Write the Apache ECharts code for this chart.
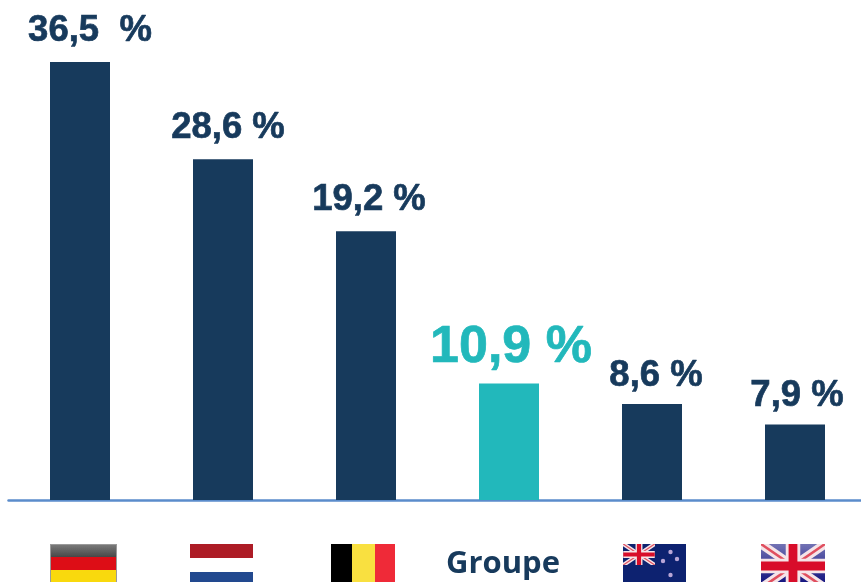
<!DOCTYPE html>
<html>
<head>
<meta charset="utf-8">
<style>
  html, body { margin: 0; padding: 0; background: #fff; }
  #chart { width: 861px; height: 582px; overflow: hidden; }
</style>
<script src="https://cdn.jsdelivr.net/npm/echarts@6/dist/echarts.min.js"></script>
</head>
<body>
<div id="chart"></div>
<script>
const categories = ['Allemagne', 'Pays-Bas', 'Belgique', 'Groupe', 'Nouvelle-Zélande', 'Royaume-Uni'];
// bar heights: in the reference they don't follow the printed labels exactly
const barValues = [36.5, 28.4, 22.4, 9.7, 8.0, 6.3];
const valueLabels = ['36,5  %', '28,6 %', '19,2 %', '10,9 %', '8,6 %', '7,9 %'];
const groupIndex = categories.indexOf('Groupe');

const NAVY = '#173a5c';
const TEAL = '#22b8bb';

const labelShiftX = [10, 5, 3, 2, 4, 2];
const labelGap = [12.5, 12.5, 12.5, 10, 10, 10];

// flags are slightly soft in the reference, so everything goes through a small blur
const svgUrl = (w, h, body) =>
  'data:image/svg+xml;charset=utf-8,' + encodeURIComponent(
    `<svg xmlns="http://www.w3.org/2000/svg" width="${w}" height="${h}" viewBox="0 0 ${w} ${h}">
      <defs>
        <filter id="soft" x="-5%" y="-5%" width="110%" height="110%"><feGaussianBlur stdDeviation="0.45"/></filter>
        <linearGradient id="grey" x1="0" y1="0" x2="0" y2="1"><stop offset="0" stop-color="#7d7d7d"/><stop offset="1" stop-color="#444444"/></linearGradient>
        <linearGradient id="ukBlue" x1="0" y1="0" x2="0" y2="1"><stop offset="0" stop-color="#7272b4"/><stop offset="0.5" stop-color="#3c3c96"/><stop offset="1" stop-color="#0a0a78"/></linearGradient>
      </defs>
      <g filter="url(#soft)">${body}</g></svg>`);

const unionJack = (w, h, blue) => `
  <rect width="${w}" height="${h}" fill="${blue}"/>
  <path d="M0 0L${w} ${h}M${w} 0L0 ${h}" stroke="#f5e4e8" stroke-width="${h * 0.2}"/>
  <path d="M0 0L${w} ${h}M${w} 0L0 ${h}" stroke="#e0505f" stroke-width="${h * 0.06}"/>
  <path d="M${w / 2} 0V${h}M0 ${h / 2}H${w}" stroke="#f5e4e8" stroke-width="${h * 0.33}"/>
  <path d="M${w / 2} 0V${h}M0 ${h / 2}H${w}" stroke="#d8102a" stroke-width="${h * 0.2}"/>`;

const star = (x, y) => `<circle cx="${x}" cy="${y}" r="2.2" fill="#b9a6d6"/>`;

const flags = [
  { x: 50, w: 67, h: 44, body: `
    <rect width="67" height="14" fill="url(#grey)"/>
    <rect y="13" width="67" height="13" fill="#dd0a14"/>
    <rect y="26" width="67" height="18" fill="#f9d90f"/>
    <rect x="0.5" y="0.5" width="66" height="43" fill="none" stroke="#9a9a9a"/>` },
  { x: 190, w: 63, h: 44, body: `
    <rect width="63" height="14" fill="#ad1c28"/>
    <rect y="14" width="63" height="14" fill="#ffffff"/>
    <rect y="28" width="63" height="16" fill="#214a8f"/>` },
  { x: 331, w: 64, h: 44, body: `
    <rect width="21" height="44" fill="#000000"/>
    <rect x="21" width="23" height="44" fill="#f9e03f"/>
    <rect x="44" width="20" height="44" fill="#ef2b38"/>` },
  { x: 623, w: 63, h: 44, body: `
    <rect width="63" height="44" fill="#0d2270"/>
    <svg width="32" height="21" viewBox="0 0 63 42">${unionJack(63, 42, '#0d2270')}</svg>
    ${star(47.5, 8)}${star(40, 17)}${star(54, 15)}${star(47.5, 31)}` },
  { x: 761, w: 64, h: 44, body: unionJack(64, 44, 'url(#ukBlue)') }
];

const chart = echarts.init(document.getElementById('chart'));

chart.setOption({
  animation: false,
  backgroundColor: '#ffffff',
  grid: { left: 8.5, width: 858, top: 20, height: 480, containLabel: false, outerBoundsMode: 'none' },
  xAxis: {
    type: 'category',
    data: categories,
    axisLine: { show: true, lineStyle: { color: '#5b8ccb', width: 2.5 } },
    axisTick: { show: false },
    axisLabel: { show: false }
  },
  yAxis: {
    type: 'value',
    min: 0,
    max: 40,
    show: false,
    splitLine: { show: false }
  },
  series: [{
    type: 'bar',
    barWidth: 60,
    z: 1,
    data: barValues.map((value, i) => {
      const isGroup = i === groupIndex;
      const color = isGroup ? TEAL : NAVY;
      return {
        value,
        itemStyle: { color },
        label: {
          show: true,
          position: 'top',
          distance: labelGap[i],
          offset: [labelShiftX[i], 0],
          formatter: () => valueLabels[i],
          fontFamily: '"Liberation Sans", Arial, sans-serif',
          fontWeight: 'bold',
          fontSize: isGroup ? 52 : 36.5,
          color,
          // reference glyphs are a touch heavier
          textBorderColor: color,
          textBorderWidth: 0.7
        }
      };
    })
  }],
  graphic: [
    {
      type: 'text',
      left: 446,
      top: 549,
      style: {
        text: categories[groupIndex],
        fontFamily: '"Open Sans", sans-serif',
        fontWeight: 'bold',
        fontSize: 31,
        fill: NAVY
      }
    }
  ].concat(flags.map(f => ({
    type: 'image',
    x: f.x,
    y: 544,
    style: { image: svgUrl(f.w, f.h, f.body), x: 0, y: 0, width: f.w, height: f.h }
  })))
});
</script>
</body>
</html>
